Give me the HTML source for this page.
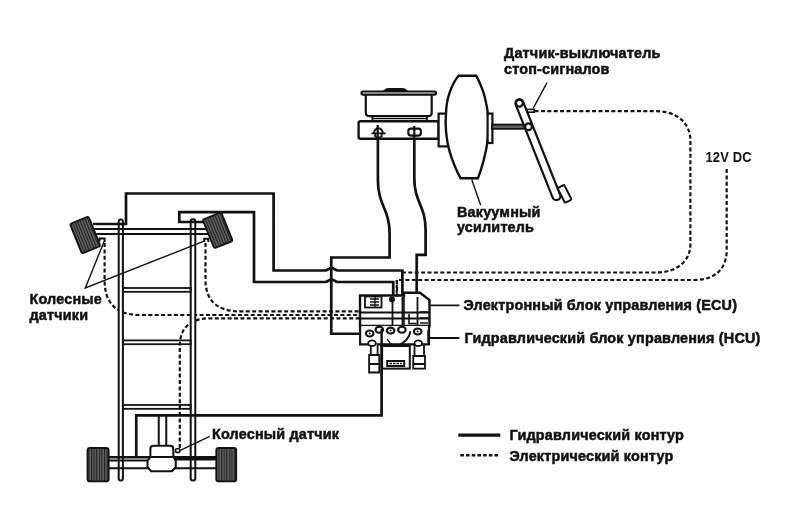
<!DOCTYPE html>
<html><head><meta charset="utf-8">
<style>
html,body{margin:0;padding:0;background:#fff;width:800px;height:531px;overflow:hidden}
svg{display:block}
text{font-family:"Liberation Sans",sans-serif;font-weight:bold;font-size:14.4px;fill:#111;stroke:#111;stroke-width:0.5px;letter-spacing:0.18px}
svg{will-change:transform}
</style></head><body>
<svg width="800" height="531" viewBox="0 0 800 531">
<defs>
<pattern id="tread" width="2.6" height="3" patternUnits="userSpaceOnUse">
<rect width="2.6" height="3" fill="#222"/>
<rect x="1.4" width="0.8" height="3" fill="#9a9a9a"/>
</pattern>
</defs>
<g fill="none" stroke="#111" stroke-width="2.7" stroke-linejoin="miter">

<!-- dashed electrical lines -->
<g stroke-dasharray="4 2.4" stroke-width="2.2">
<path d="M534.5,111.2 H656 C676,111.2 690.4,122 690.4,141 V244 C690.4,262 676,272.5 656,272.5 H403.5"/>
<path d="M726.7,169 V250 C726.7,270 714,280 694,280 H397 V297"/>
<path d="M104.6,243 V280 C104.6,303 116,315 140,315 H360"/>
<path d="M205.5,243 V280 C205.5,301 218,311.4 240,311.4 H360"/>
<path d="M179.8,448 V346 C179.8,328 190,318.3 210,318.3 H360"/>
</g>

<!-- frame rails -->
<rect x="118.7" y="219.4" width="4.2" height="261" rx="2" stroke-width="2" fill="#fff"/>
<rect x="190.7" y="219.2" width="4.6" height="261.2" rx="2" stroke-width="2" fill="#fff"/>
<!-- cross members -->
<rect x="122.9" y="288" width="67.8" height="3.8" stroke-width="1.8"/>
<rect x="122.9" y="340.4" width="67.8" height="3.8" stroke-width="1.8"/>
<rect x="122.9" y="405" width="67.8" height="3.8" stroke-width="1.8"/>

<!-- front axle -->
<path d="M93,229 H208" stroke-width="1.8"/>
<path d="M95,234 H208" stroke-width="2.2"/>

<!-- hydraulic pipes -->
<path d="M93,224 H126 V193.5 H273.6 V270.5 H325 C328,270.5 329,268 331.5,268 C334,268 335,270.5 338,270.5 H402.4 V297"/>
<path d="M205,222 H179.3 V212.1 H254 V282 H325 C328,282 329,279.5 331.5,279.5 C334,279.5 335,282 338,282 H393.2 V328"/>
<path d="M377.9,137 V180 C377.9,206 389.6,208 389.6,234 V257.5 H331.25 V333.75 H360"/>
<path d="M414.3,137 V178 C414.3,203 425.6,205 425.6,230 V254.8 H416.7 V330"/>
<path d="M381.6,329 V415.3 H136.25 V456"/>

<!-- rear: driveshaft, diff, axle -->
<path d="M158.75,416 V446 M166.25,416 V446" stroke-width="2"/>
<path d="M108.7,457.3 H150" stroke-width="2.4"/>
<path d="M108.7,460.4 H147.5" stroke-width="2"/>
<path d="M173,458.2 H216" stroke-width="4.4"/>
<path d="M108.7,468.2 H216" stroke-width="2"/>
<path d="M150.4,457 V449 Q150.4,445.8 153.6,445.8 H170 Q173.3,445.8 173.3,449 V457 L175.8,461 V467 L172,471.2 H151 L147.5,467 V461 Z M150.4,457 H173.3" fill="#fff" stroke-width="2"/>
<!-- rear wheels -->
<rect x="87.5" y="448" width="21.2" height="33.4" rx="2.5" fill="url(#tread)" stroke-width="1.8"/>
<rect x="216.25" y="448" width="20" height="33.4" rx="2.5" fill="url(#tread)" stroke-width="1.8"/>

<!-- front wheels -->
<rect x="-10" y="-16" width="20" height="32" rx="1.8" fill="url(#tread)" stroke-width="1.8" transform="translate(85.2,235) rotate(-22)"/>
<rect x="-10" y="-15.5" width="20" height="31" rx="1.8" fill="url(#tread)" stroke-width="1.8" transform="translate(217.7,230.3) rotate(-22)"/>
<!-- front sensors -->
<path d="M99.5,241.5 V238.4 H104.6 V242" stroke-width="2"/>
<path d="M204.2,242 V238.7 H208.3 V242" stroke-width="2"/>
<!-- rear sensor -->
<rect x="175.6" y="448.8" width="4.2" height="3.6" rx="1" stroke-width="1.6" fill="#fff"/>

<!-- leader lines -->
<g stroke-width="1.4">
<path d="M104,241.8 L85.3,287.9 L204.2,241.1"/>
<path d="M179.2,450.8 L209.7,436.4"/>
<path d="M533.2,108.4 L547,82.6"/>
<path d="M471.7,179.6 L480.7,205.2"/>
<path d="M430,305.4 H459.5 M430,338 H459.5" stroke-width="1.9"/>
</g>

<!-- master cylinder + reservoir -->
<rect x="361.5" y="91.5" width="74.5" height="3.2" rx="1.6" stroke-width="2.2"/>
<path d="M384,91 Q386,88.8 389,88.8 H402 Q405,88.8 407,91 Z" fill="#111" stroke-width="1.4"/>
<path d="M365.8,95.2 V112.5 Q365.8,116.2 369.5,116.2 H428 Q431.7,116.2 431.7,112.5 V95.2" stroke-width="2.2"/>
<path d="M372.4,116.2 V121 M427,116.2 V121" stroke-width="1.8"/>
<path d="M372.4,118.6 H427" stroke-width="1.2"/>
<rect x="358.6" y="121.2" width="80" height="17.6" rx="2" stroke-width="2.4" fill="#fff"/>
<path d="M371.5,133.4 H385.7 M373.8,133.4 Q374.5,128.6 378.4,128.3 Q382.3,128.6 383,133.4 M375.2,133.4 V136.5 Q378.4,138.5 381.6,136.5 V133.4" stroke-width="1.9"/>
<path d="M377.7,125 V140" stroke-width="2.2"/>
<rect x="408.3" y="128.6" width="12.6" height="7" rx="2.5" stroke-width="2.1"/>
<path d="M414.3,126 V140" stroke-width="2.2"/>
<!-- flanges & booster -->
<rect x="438.6" y="113.6" width="10" height="32.8" stroke-width="2.2" fill="#fff"/>
<path d="M458.6,75.8 C458.0,76.7 456.2,78.5 454.7,81.3 C453.2,84.1 450.9,88.8 449.6,92.6 C448.3,96.4 447.4,100.1 446.8,103.9 C446.2,107.7 446.1,111.7 445.9,115.2 C445.7,118.7 445.6,121.5 445.7,125.0 C445.8,128.5 446.1,132.5 446.6,136.3 C447.1,140.1 447.7,143.8 448.6,147.6 C449.5,151.4 450.7,155.1 452.0,158.9 C453.3,162.7 455.2,167.0 456.6,170.2 C458.0,173.4 459.9,177.0 460.5,178.3 H477.9 C478.4,177.0 479.8,173.4 480.8,170.2 C481.8,167.0 483.1,162.7 484.0,158.9 C484.9,155.1 485.8,151.4 486.5,147.6 C487.2,143.8 487.7,140.1 488.0,136.3 C488.3,132.5 488.3,128.5 488.3,125.0 C488.3,121.5 488.3,118.7 488.0,115.2 C487.7,111.7 487.1,107.7 486.3,103.9 C485.6,100.1 484.7,96.4 483.5,92.6 C482.3,88.8 480.2,84.1 479.0,81.3 C477.8,78.5 476.7,76.7 476.2,75.8 Z" fill="#fff" stroke-width="2.4"/>
<rect x="487.6" y="113.6" width="4.8" height="29.4" stroke-width="2.2" fill="#fff"/>
<rect x="492.1" y="124.6" width="35" height="4.2" stroke-width="1.8" fill="#666"/>

<!-- pedal -->
<g transform="translate(519.4,103.2) rotate(-21.7)">
<rect x="-4" y="-4" width="8" height="108" rx="4" fill="#fff" stroke-width="2.2"/>
<rect x="4" y="93" width="7.5" height="16.5" rx="1.2" fill="#fff" stroke-width="2" transform="rotate(-5 4 93)"/>
<circle cx="0" cy="0" r="3.4" stroke-width="2.2" fill="#fff"/>
</g>
<circle cx="528.5" cy="126.8" r="3.4" stroke-width="2.2" fill="#fff"/>
<rect x="527.2" y="109.4" width="7" height="2.8" stroke-width="1.6" fill="#fff"/>

<!-- ECU -->
<path d="M360,326 V295.5 H404 V292.8 H420 L429.5,300 V326 Z" fill="#fff" stroke-width="2.4"/>
<path d="M404,295.5 V326" stroke-width="1.6"/>
<rect x="365" y="296.5" width="16.5" height="11" stroke-width="1.8"/>
<path d="M370,299 H379 M370,302 H379 M370,305 H379 M375,297 V307" stroke-width="1.3"/>
<path d="M360,312.5 H429.5" stroke-width="1.8"/>
<path d="M360,318.5 H429.5" stroke-width="2.2"/>
<circle cx="392" cy="299.5" r="3" fill="#111" stroke="none"/>
<path d="M396.7,280 V297" stroke-width="2" stroke-dasharray="3 2"/>
<path d="M402.5,297 V335 M392.5,299 V326 M417.5,297 V335" stroke-width="1.8"/>
<path d="M409,314 V323.5 H416.5 M420,312 H428 M420,318 H428 M420,323 H428" stroke-width="1.6"/>
<!-- HCU -->
<path d="M360.1,326 V344.3 H429 V326" fill="#fff" stroke-width="2.2"/>
<g stroke-width="2.1" fill="#fff">
<ellipse cx="369.7" cy="333.5" rx="3.8" ry="3"/>
<ellipse cx="379.3" cy="329.8" rx="3.8" ry="3"/>
<ellipse cx="390.6" cy="330.6" rx="3.8" ry="3"/>
<ellipse cx="401.9" cy="329.8" rx="3.8" ry="3"/>
<ellipse cx="417.7" cy="331.5" rx="3.8" ry="3"/>
</g>
<g fill="#111" stroke="none">
<circle cx="369.7" cy="333.5" r="1"/><circle cx="390.6" cy="330.6" r="1"/><circle cx="417.7" cy="331.5" r="1"/>
</g>
<path d="M410.5,331 Q409,341 397.5,346" stroke-width="1.8"/>
<path d="M387,339 Q390,344 394,346" stroke-width="1.4"/>
<rect x="382.1" y="346" width="27.7" height="22.6" stroke-width="2" fill="#fff"/>
<rect x="387.2" y="361" width="17" height="5" stroke-width="2" fill="#fff"/>
<path d="M389.5,363.5 H402" stroke-width="1.4" stroke-dasharray="2.5 1"/>
<path d="M370.8,344 V355 H377.6 V344 M369.1,355 H379.3 V372.5 H369.1 Z M369.1,364 H379.3" stroke-width="1.8" fill="#fff"/>
<path d="M414.5,344 V356 M424,344 V356 M413.2,356 H425 V368.6 H413.2 Z M413.2,364 H425" stroke-width="1.8" fill="#fff"/>
<g stroke-width="1.8" fill="#fff">
<ellipse cx="372" cy="343.2" rx="3.8" ry="2.8"/>
<ellipse cx="418.3" cy="343.2" rx="3.8" ry="2.8"/>
</g>
<rect x="427.3" y="330.2" width="2.6" height="13.5" fill="#111" stroke="none"/>
<path d="M381.6,329 V347" stroke-width="2.4"/>

<!-- legend -->
<path d="M458.3,435.1 H500.2" stroke-width="3.2"/>
<path d="M460.3,455.2 H500" stroke-width="2.6" stroke-dasharray="3.6 2.1"/>
</g>

<!-- texts -->
<text x="504" y="58.2">Датчик-выключатель</text>
<text x="504" y="74.4">стоп-сигналов</text>
<text x="457" y="217">Вакуумный</text>
<text x="457" y="231.6">усилитель</text>
<text x="463.5" y="310.2">Электронный блок управления (ECU)</text>
<text x="464.5" y="343">Гидравлический блок управления (HCU)</text>
<text x="29.5" y="304.1">Колесные</text>
<text x="29.5" y="320.3">датчики</text>
<text x="212" y="438.7">Колесный датчик</text>
<text x="509.5" y="439.6">Гидравлический контур</text>
<text x="509.5" y="461.3">Электрический контур</text>
<text x="705.5" y="162" style="stroke-width:0" transform="translate(705.5,0) scale(0.9,1) translate(-705.5,0)">12V DC</text>
</svg>
</body></html>
